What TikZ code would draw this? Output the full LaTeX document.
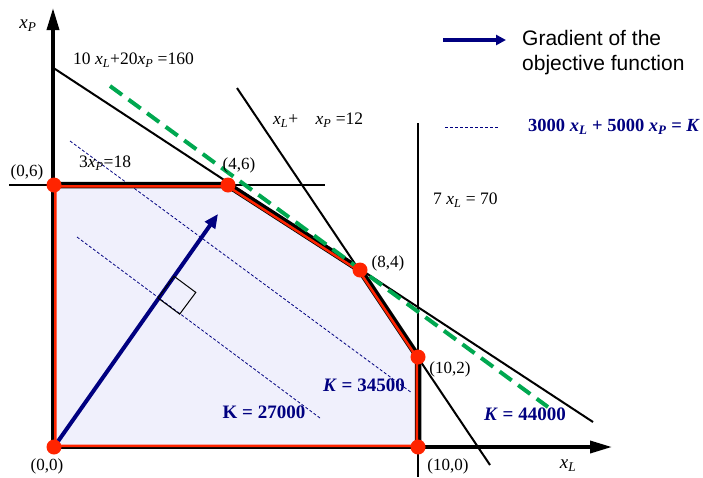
\documentclass[tikz,border=0pt]{standalone}
\usepackage{fontspec}
\setmainfont{Liberation Serif}
\newfontfamily\arialfont{Liberation Sans}
\usetikzlibrary{arrows.meta}
\definecolor{navyblue}{RGB}{0,0,128}
\definecolor{regionfill}{RGB}{240,240,252}
\definecolor{vertexred}{RGB}{255,36,0}
\definecolor{optgreen}{RGB}{0,168,80}
\newcommand{\vx}[1]{\textit{x}\textsubscript{\textit{#1}}}

\begin{document}
\begin{tikzpicture}[x=1pt, y=-1pt,
        axis/.style={line width=3.5pt, -{Triangle[length=22pt, width=12pt]}},
        constraint/.style={line width=2pt},
        boundary/.style={line width=6.5pt, line join=round},
        innerred/.style={vertexred, line width=5pt},
        isoline/.style={navyblue, line width=0.8pt, dash pattern=on 3pt off 2pt},
        optline/.style={optgreen, line width=4pt, dash pattern=on 15pt off 8pt},
        gradient/.style={navyblue, line width=4pt, -{Triangle[length=14pt, width=12pt]}},
        vertex/.style={circle, fill=vertexred, minimum size=15pt, inner sep=0pt},
        coordlabel/.style={font=\fontsize{17}{20}\selectfont, inner sep=0pt},
        conlabel/.style={font=\fontsize{17.5}{20}\selectfont, inner sep=0pt, anchor=west},
        klabel/.style={text=navyblue, font=\fontsize{19}{22}\selectfont\bfseries, inner sep=0pt}
    ]
    \useasboundingbox (0,0) rectangle (703,477);

    % corner points of the feasible region
    \coordinate (O) at (54,447);
    \coordinate (A) at (54,185);
    \coordinate (B) at (228,185);
    \coordinate (C) at (360,270);
    \coordinate (D) at (418,357);
    \coordinate (E) at (418,447);

    \fill[regionfill] (O) -- (A) -- (B) -- (C) -- (D) -- (E) -- cycle;

    % iso-profit lines
    \coordinate (k27a) at (77,237);
    \coordinate (k27b) at (320,418);
    \coordinate (k34a) at (70,141);
    \coordinate (k34b) at (412,393);
    \draw[isoline] (k27a) -- (k27b);
    \draw[isoline] (k34a) -- (k34b);

    % constraints
    \coordinate (c1a) at (52,67);
    \coordinate (c1b) at (593,422);
    \coordinate (c2a) at (237,88);
    \coordinate (c2b) at (490,465);
    \coordinate (c3a) at (9,185);
    \coordinate (c3b) at (325,185);
    \coordinate (c4a) at (418,123);
    \coordinate (c4b) at (418,477);
    \draw[constraint] (c1a) -- (c1b);
    \draw[constraint] (c2a) -- (c2b);
    \draw[constraint] (c3a) -- (c3b);
    \draw[constraint] (c4a) -- (c4b);

    \draw[boundary] (A) -- (B) -- (C) -- (D) -- (E);

    % axes
    \coordinate (ytip) at (53,8);
    \coordinate (xtip) at (612,447);
    \draw[axis] (53,447) -- (ytip);
    \draw[axis] (53,447) -- (xtip);

    \begin{scope}
        \clip (O) -- (A) -- (B) -- (C) -- (D) -- (E) -- cycle;
        \draw[innerred] (O) -- (A) -- (B) -- (C) -- (D) -- (E) -- cycle;
    \end{scope}

    % K = 44000
    \coordinate (k44a) at (110,86);
    \coordinate (k44b) at (548,407);
    \draw[optline] (k44a) -- (k44b);

    % gradient and right angle
    \coordinate (G) at (218,214);
    \draw[gradient] (O) -- (G);
    \coordinate (sq) at (158,298);
    \draw[line width=1pt] (sq) -- ++(16.1,-21.7) -- ++(21.7,16.1) -- ++(-16.1,21.7) -- cycle;

    \node[vertex] (vO) at (O) {};
    \node[vertex] (vA) at (A) {};
    \node[vertex] (vB) at (B) {};
    \node[vertex] (vC) at (C) {};
    \node[vertex] (vD) at (D) {};
    \node[vertex] (vE) at (E) {};

    \node[coordlabel] (lO) at (47,466) {(0,0)};
    \node[coordlabel] (lA) at (27,172) {(0,6)};
    \node[coordlabel] (lB) at (239,165) {(4,6)};
    \node[coordlabel] (lC) at (388,263) {(8,4)};
    \node[coordlabel] (lD) at (450,369) {(10,2)};
    \node[coordlabel] (lE) at (448,466) {(10,0)};

    \node[font=\fontsize{19}{22}\selectfont, inner sep=0pt] (xP) at (28,26) {\vx{P}};
    \node[font=\fontsize{19}{22}\selectfont, inner sep=0pt] (xL) at (568,466) {\vx{L}};

    \node[conlabel] (l160) at (73,60) {10 \vx{L}+20\vx{P} =160};
    \node[conlabel] (l12) at (273,120) {\vx{L}+\hspace{1em}\vx{P} =12};
    \node[conlabel] (l18) at (79,163) {3\vx{P}=18};
    \node[conlabel] (l70) at (433,200) {7 \vx{L} = 70};

    \node[klabel] (k27) at (264,412) {K = 27000};
    \node[klabel] (k34) at (364,385) {\textit{K} = 34500};
    \node[klabel] (k44) at (525,414) {\textit{K} = 44000};

    % legend
    \coordinate (legA) at (443,40);
    \coordinate (legB) at (506,40);
    \draw[navyblue, line width=4pt, -{Triangle[length=10pt, width=10pt]}] (legA) -- (legB);
    \node[anchor=west, align=left, font=\arialfont\fontsize{21}{25}\selectfont, inner sep=0pt] (grad) at (522,53) {Gradient of the\\objective function};
    \coordinate (legC) at (445,127);
    \coordinate (legD) at (498,127);
    \draw[isoline] (legC) -- (legD);
    \node[klabel, anchor=west, font=\fontsize{18.5}{22}\selectfont\bfseries] (obj) at (528,127) {3000 \vx{L} + 5000 \vx{P} = \textit{K}};
\end{tikzpicture}
\end{document}
